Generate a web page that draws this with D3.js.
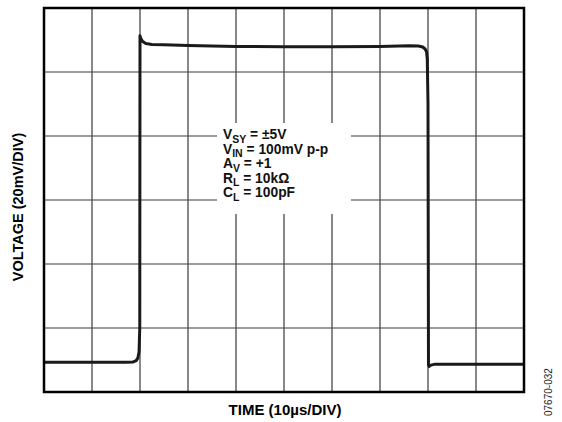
<!DOCTYPE html>
<html>
<head>
<meta charset="utf-8">
<script src="https://cdn.jsdelivr.net/npm/d3@7"></script>
<style>
  body { margin: 0; background: #fff; }
  text { font-family: "Liberation Sans", Arial, sans-serif; }
</style>
</head>
<body>
<div id="chart"></div>
<script>
// time in us (10us/div), voltage in mV (20mV/div)
var timeTicks = [0, 10, 20, 30, 40, 50, 60, 70, 80, 90, 100];
var voltTicks = [-60, -40, -20, 0, 20, 40, 60];

var traceTime = [0, 10, 17, 18.6, 19.2, 19.55, 19.8, 19.95, 20.0, 20.15, 20.5, 21.2, 22.5, 25, 30, 40, 50, 60, 70, 76, 78, 78.9, 79.4, 79.7, 79.85, 80.0, 80.1, 80.25, 80.6, 81.5, 90, 100];
var traceVolt = [-50.7, -50.7, -50.7, -50.6, -50.2, -49.4, -47.5, -40, 51.3, 50.6, 49.6, 48.9, 48.6, 48.5, 48.3, 48.0, 47.9, 47.9, 48.0, 48.2, 48.1, 47.8, 47.2, 46.3, 44, 30, -51.6, -52.0, -51.6, -51.3, -51.3, -51.3];

var noteLines = [
    { main: "V", sub: "SY", rest: " = \u00b15V" },
    { main: "V", sub: "IN", rest: " = 100mV p-p" },
    { main: "A", sub: "V", rest: " = +1" },
    { main: "R", sub: "L", rest: " = 10k\u03a9" },
    { main: "C", sub: "L", rest: " = 100pF" }
];

function init() {
    var w = 562, h = 422;
    var margin = { top: 8, right: 38, bottom: 30, left: 44 };
    var pw = w - margin.left - margin.right;   // 480
    var ph = h - margin.top - margin.bottom;   // 384

    var svg = d3.select("#chart")
        .append("svg")
        .attr("width", w)
        .attr("height", h);

    var g = svg.append("g")
        .attr("transform", "translate(" + margin.left + "," + margin.top + ")");

    var xScale = d3.scaleLinear().domain([0, 100]).range([0, pw]);
    var yScale = d3.scaleLinear().domain([-60, 60]).range([ph, 0]);

    // grid
    g.selectAll(".vgrid")
        .data(timeTicks)
        .enter()
        .append("line")
        .attr("x1", function (d) { return xScale(d); })
        .attr("x2", function (d) { return xScale(d); })
        .attr("y1", 0)
        .attr("y2", ph)
        .attr("stroke", "#3a3a3a")
        .attr("stroke-width", 1.2);

    g.selectAll(".hgrid")
        .data(voltTicks)
        .enter()
        .append("line")
        .attr("x1", 0)
        .attr("x2", pw)
        .attr("y1", function (d) { return yScale(d); })
        .attr("y2", function (d) { return yScale(d); })
        .attr("stroke", "#3a3a3a")
        .attr("stroke-width", 1.2);

    // white box behind the conditions
    g.append("rect")
        .attr("x", 173)
        .attr("y", 115)
        .attr("width", 134)
        .attr("height", 91)
        .attr("fill", "#fff");

    var note = g.append("g")
        .attr("transform", "translate(179,131)")
        .attr("font-size", "13.8px")
        .attr("font-weight", "bold")
        .attr("fill", "#111");

    noteLines.forEach(function (l, i) {
        var t = note.append("text")
            .attr("x", 0)
            .attr("y", i * 14.5);
        t.append("tspan").text(l.main);
        t.append("tspan").attr("font-size", "10.5px").attr("dy", 3.5).text(l.sub);
        t.append("tspan").attr("dy", -3.5).text(l.rest);
    });

    // trace
    var trace = traceTime.map(function (t, i) { return [t, traceVolt[i]]; });
    var line = d3.line()
        .x(function (d) { return xScale(d[0]); })
        .y(function (d) { return yScale(d[1]); });

    g.append("path")
        .datum(trace)
        .attr("d", line)
        .attr("fill", "none")
        .attr("stroke", "#1a1a1a")
        .attr("stroke-width", 3)
        .attr("stroke-linejoin", "round");

    // frame
    g.append("rect")
        .attr("x", 0)
        .attr("y", 0)
        .attr("width", pw)
        .attr("height", ph)
        .attr("fill", "none")
        .attr("stroke", "#000")
        .attr("stroke-width", 2.5);

    // axis titles
    svg.append("text")
        .attr("transform", "translate(" + 23 + "," + (margin.top + ph / 2 + 7) + ") rotate(-90)")
        .attr("text-anchor", "middle")
        .attr("font-size", "14.5px")
        .attr("font-weight", "bold")
        .text("VOLTAGE (20mV/DIV)");

    svg.append("text")
        .attr("x", margin.left + pw / 2 + 1)
        .attr("y", 415)
        .attr("text-anchor", "middle")
        .attr("font-size", "15px")
        .attr("font-weight", "bold")
        .text("TIME (10\u00b5s/DIV)");

    svg.append("text")
        .attr("transform", "translate(552,416) rotate(-90)")
        .attr("text-anchor", "start")
        .attr("font-size", "10px")
        .attr("fill", "#222")
        .text("07670-032");
}

init();
</script>
</body>
</html>
